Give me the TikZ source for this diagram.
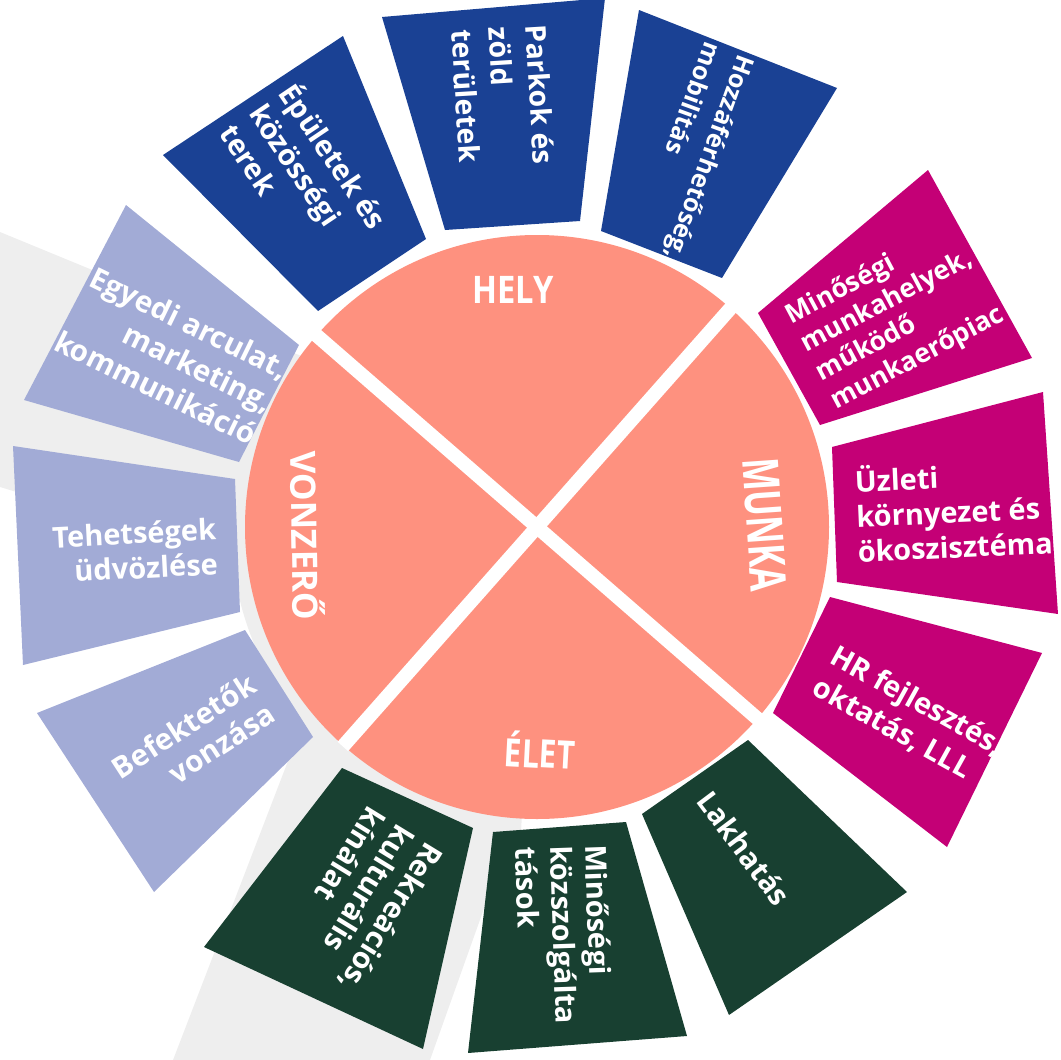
\documentclass[tikz,border=0pt]{standalone}
\usepackage{fontspec}
\setmainfont{Open Sans}
\usetikzlibrary{calc}
\definecolor{salmon}{RGB}{254,145,127}
\definecolor{hblue}{RGB}{26,65,148}
\definecolor{mmag}{RGB}{196,0,118}
\definecolor{egreen}{RGB}{24,64,49}
\definecolor{vlav}{RGB}{162,171,214}
\definecolor{bggray}{RGB}{238,238,238}
\newcommand{\fs}[2]{\fontsize{#1}{#2}\selectfont}
\begin{document}
\begin{tikzpicture}[x=1pt,y=-1pt,
  lbl/.style={text=white, inner sep=0pt, font=\bfseries\fs{29}{36}},
  qlbl/.style={text=white, inner sep=0pt, anchor=base}]
\useasboundingbox (0,0) rectangle (1061,1060);
\clip (0,0) rectangle (1061,1060);
\coordinate (c) at (537,527);
% background grey
\fill[bggray] (0,232) -- (537,453) -- (537,650) -- (0,487) -- cycle;
\fill[bggray] (173,1060) -- (378,527) -- (620,527) -- (430,1060) -- cycle;
\fill[bggray] (c) -- ++(93:306) arc[start angle=93,end angle=215,radius=306] -- cycle;
% central circle
\fill[salmon] (c) circle[radius=292];
\draw[white, line width=14pt] ($(c)+(41:293)$) -- ($(c)+(221:293)$);
\draw[white, line width=14pt] ($(c)+(-48.5:293)$) -- ($(c)+(131.5:293)$);
% boxes HELY
\fill[hblue] (163,155) -- (343,36) -- (426,239) -- (318,311) -- cycle;
\fill[hblue] (382,17) -- (605,-2) -- (580,221) -- (445,230) -- cycle;
\fill[hblue] (639,10) -- (837,88) -- (722,278) -- (601,231) -- cycle;
% boxes MUNKA
\fill[mmag] (758,313) -- (928,170) -- (1032,358) -- (820,425) -- cycle;
\fill[mmag] (832,447) -- (1043,392) -- (1058,614) -- (837,582) -- cycle;
\fill[mmag] (830,597) -- (1042,653) -- (947,847) -- (773,713) -- cycle;
% boxes ELET
\fill[egreen] (642,814) -- (748,740) -- (907,892) -- (729,1015) -- cycle;
\fill[egreen] (493,832) -- (626,822) -- (687,1036) -- (468,1053) -- cycle;
\fill[egreen] (342,768) -- (473,828) -- (423,1049) -- (204,947) -- cycle;
% boxes VONZERO
\fill[vlav] (37,713) -- (245,630) -- (313,737) -- (154,892) -- cycle;
\fill[vlav] (13,446) -- (235,479) -- (240,612) -- (23,665) -- cycle;
\fill[vlav] (24,400) -- (126,205) -- (299,345) -- (239,462) -- cycle;
% quadrant labels
\node[qlbl, font=\bfseries\fs{38}{40}] (hely) at (513,303) {\scalebox{0.86}[1]{HELY}};
\node[qlbl, rotate=-86, font=\bfseries\fs{50}{52}] (munka) at (747,526) {\scalebox{0.69}[1]{MUNKA}};
\node[qlbl, rotate=-3, font=\bfseries\fs{39}{41}] (elet) at (539,768) {\scalebox{0.8}[1]{ÉLET}};
\node[qlbl, rotate=-89, font=\bfseries\fs{35}{37}] (vonzero) at (292,536) {VONZERŐ};
% box texts
\node[lbl, rotate=-56, anchor=west, align=left] (t1) at (259,106) {Épületek és\\közösségi\\terek};
\node[lbl, rotate=-86.5, anchor=west, align=left, font=\bfseries\fs{28.5}{37}] (t2) at (499,27) {Parkok és\\zöld\\területek};
\node[lbl, rotate=-110, anchor=west, align=left, font=\bfseries\fs{25}{36}] (t3) at (731,50) {Hozzáférhetőség,\\mobilitás};
\node[lbl, rotate=28, anchor=west, align=left, font=\bfseries\fs{26.5}{32}] (t4) at (811,361) {Minőségi\\munkahelyek,\\működő\\munkaerőpiac};
\node[lbl, rotate=2.5, anchor=west, align=left, font=\bfseries\fs{29}{35}] (t5) at (856,514) {Üzleti\\környezet és\\ökoszisztéma};
\node[lbl, rotate=-29, anchor=west, align=left] (t6) at (824,670) {HR fejlesztés,\\oktatás, LLL};
\node[lbl, rotate=-53] (t7) at (744,848) {Lakhatás};
\node[lbl, rotate=-88, anchor=west, align=left, font=\bfseries\fs{29}{35}] (t8) at (561,846) {Minőségi\\közszolgálta\\tások};
\node[lbl, rotate=-121.5, anchor=west, align=left, font=\bfseries\fs{29.5}{34}] (t9) at (407,828) {Rekreációs,\\kulturális\\kínálat};
\node[lbl, rotate=33, anchor=east, align=right, font=\bfseries\fs{29.5}{35}] (t10) at (262,696) {Befektetők\\vonzása};
\node[lbl, rotate=3, anchor=east, align=right, font=\bfseries\fs{29}{35}] (t11) at (217,546) {Tehetségek\\üdvözlése};
\node[lbl, rotate=-26, anchor=east, align=right, font=\bfseries\fs{29.5}{36.5}] (t12) at (271,403) {Egyedi arculat,\\marketing,\\kommunikáció};
\end{tikzpicture}
\end{document}
